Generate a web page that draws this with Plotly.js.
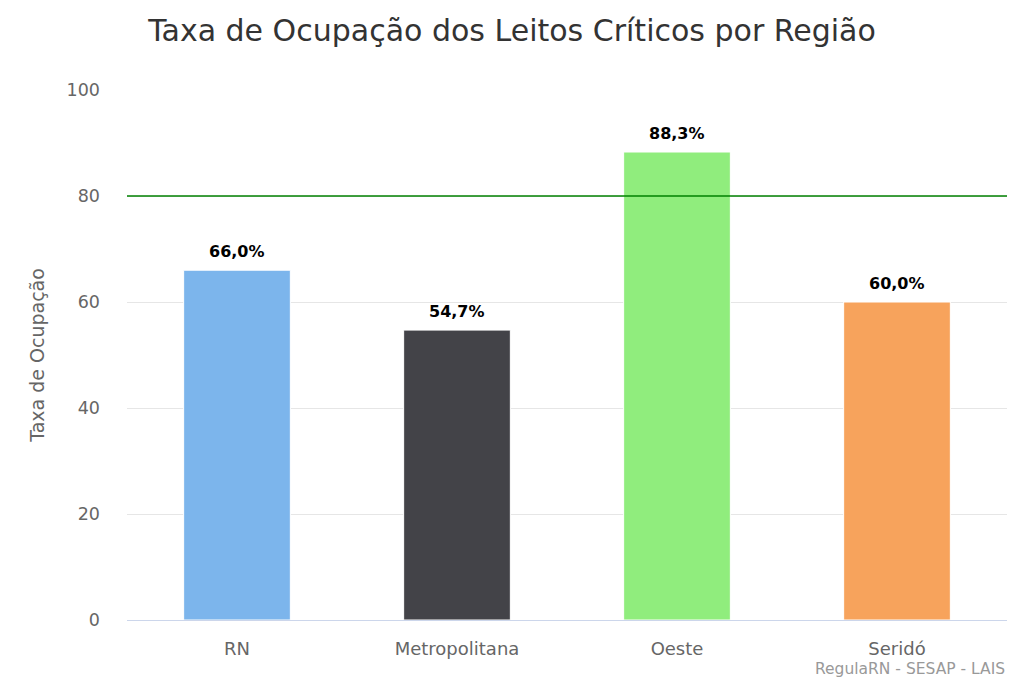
<!DOCTYPE html>
<html>
<head>
<meta charset="utf-8">
<script src="https://cdn.plot.ly/plotly-3.0.1.min.js"></script>
<style>html,body{margin:0;padding:0;background:#fff;}#chart{width:1024px;height:683px;}</style>
</head>
<body>
<div id="chart"></div>
<script>
const categories = ["RN", "Metropolitana", "Oeste", "Seridó"];
const values = [66.0, 54.7, 88.3, 60.0];
const barColors = ["#7cb5ec", "#434348", "#90ed7d", "#f7a35c"];
const yTicks = [0, 20, 40, 60, 80, 100];
const targetLine = 80;
const titleText = "Taxa de Ocupação dos Leitos Críticos por Região";
const yTitle = "Taxa de Ocupação";
const creditText = "RegulaRN - SESAP - LAIS";

const fmt = v => v.toFixed(1).replace(".", ",") + "%";

const trace = {
  type: "bar",
  x: categories,
  y: values,
  marker: {color: barColors, line: {width: 1, color: "#ffffff"}},
  hoverinfo: "none",
  showlegend: false
};

const annotations = categories.map((c, i) => ({
  x: c, y: values[i], xref: "x", yref: "y",
  text: "<b>" + fmt(values[i]) + "</b>",
  showarrow: false, yanchor: "bottom", yshift: 7,
  font: {family: "DejaVu Sans", size: 16, color: "#000000"}
}));
annotations.push({
  x: 1, xref: "paper", xanchor: "right",
  y: -0.092, yref: "paper", yanchor: "middle",
  text: creditText, showarrow: false,
  font: {family: "DejaVu Sans", size: 15.5, color: "#999999"}
});

const layout = {
  width: 1024, height: 683,
  margin: {l: 127, r: 17, t: 90, b: 63},
  paper_bgcolor: "#ffffff", plot_bgcolor: "#ffffff",
  title: {
    text: titleText, x: 0.5, xanchor: "center", y: 0.955, yanchor: "middle",
    xref: "container",
    font: {family: "DejaVu Sans", size: 30, color: "#333333"}
  },
  bargap: 0.515,
  xaxis: {
    type: "category",
    showgrid: false, zeroline: false,
    showline: true, linecolor: "#ccd6eb", linewidth: 1,
    ticks: "", ticklabelstandoff: 12,
    tickfont: {family: "DejaVu Sans", size: 18, color: "#666666"},
    fixedrange: true
  },
  yaxis: {
    range: [0, 100], tickvals: yTicks,
    showgrid: true, gridcolor: "#e6e6e6", gridwidth: 1,
    zeroline: false, showline: false,
    ticks: "", ticklabelstandoff: 26,
    tickfont: {family: "DejaVu Sans", size: 17.5, color: "#666666"},
    title: {text: yTitle, standoff: 16,
      font: {family: "DejaVu Sans", size: 19, color: "#666666"}},
    fixedrange: true
  },
  shapes: [{
    type: "line", xref: "paper", x0: 0, x1: 1, yref: "y", y0: targetLine, y1: targetLine,
    line: {color: "#008000", width: 1.5}
  }],
  annotations: annotations
};

Plotly.newPlot("chart", [trace], layout, {displayModeBar: false, staticPlot: true});
</script>
</body>
</html>
